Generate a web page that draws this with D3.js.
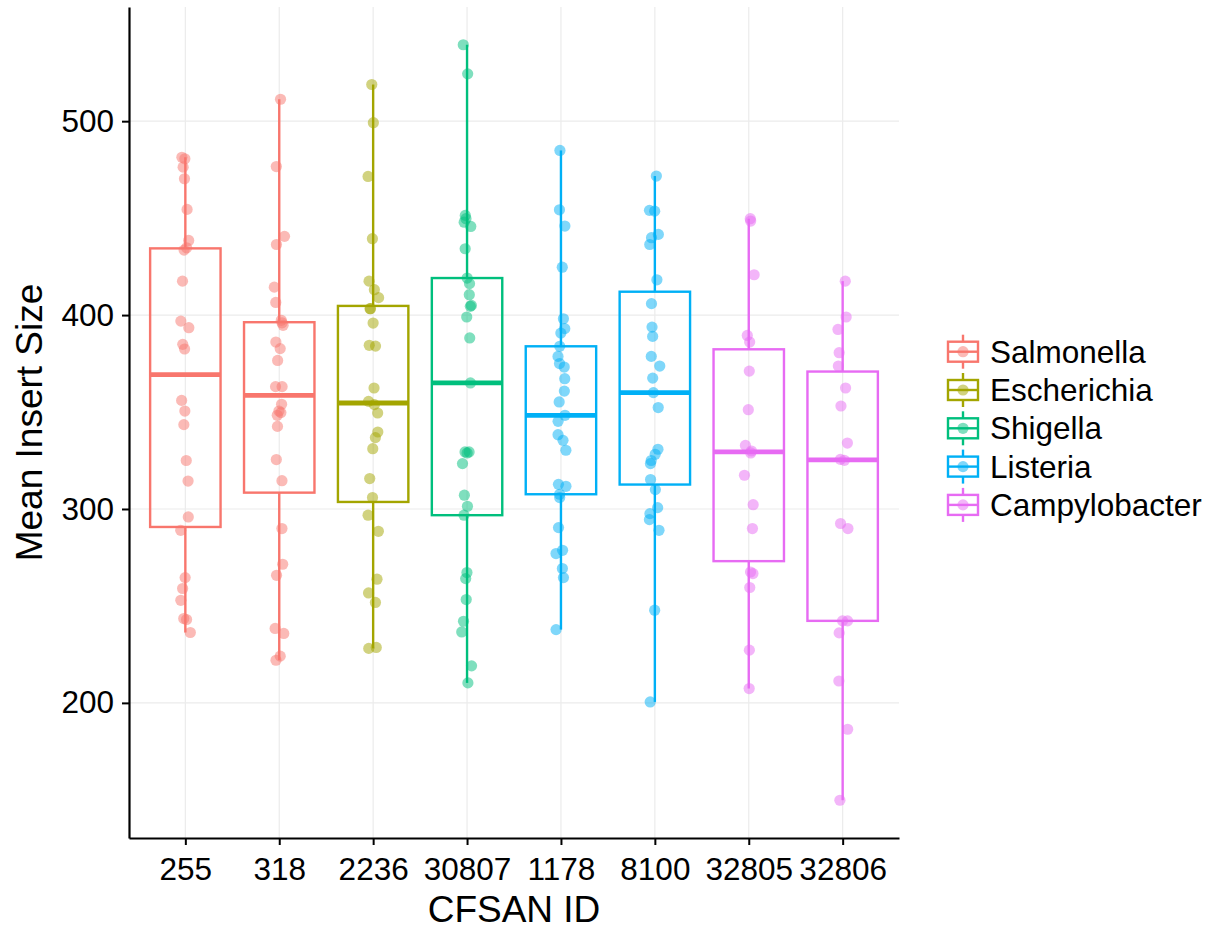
<!DOCTYPE html>
<html>
<head>
<meta charset="utf-8">
<script src="https://cdn.jsdelivr.net/npm/d3@7"></script>
<style>
  body { margin: 0; background: #fff; }
  text { font-family: "Liberation Sans", Arial, Helvetica, sans-serif; }
</style>
</head>
<body>
<svg id="chart" width="1211" height="930"></svg>
<script>
'use strict';

// CFSAN IDs in plotting order, and the genus each one belongs to
const ids = ['255', '318', '2236', '30807', '1178', '8100', '32805', '32806'];
const genusOfId = ['Salmonella', 'Salmonella', 'Escherichia', 'Shigella',
  'Listeria', 'Listeria', 'Campylobacter', 'Campylobacter'];
const genera = ['Salmonella', 'Escherichia', 'Shigella', 'Listeria', 'Campylobacter'];
const yTicks = [200, 300, 400, 500];

// mean insert size per sample
const size255 = [481.4, 480.6, 476.3, 470.3, 454.5, 438.5, 434.7, 433.5, 417.5, 396.9,
  393.5, 384.9, 382.5, 356, 350.5, 343.5, 325, 314.4, 295.9, 289, 264.6, 259, 252.9,
  243.5, 243, 236.3];
const size318 = [511.3, 476.6, 440.6, 436.4, 414.4, 406.5, 397.3, 396, 394.7, 386.1,
  382.7, 376.6, 363.1, 363.1, 354, 350.5, 349.7, 348.3, 342.6, 325.5, 314.6, 289.9,
  271.5, 265.8, 238.4, 235.8, 224.1, 222];
const size2236 = [518.9, 499.2, 471.5, 439.4, 417.5, 413.1, 409, 403.3, 403.3, 395.9,
  384.4, 384, 362.4, 355.5, 353.8, 349.5, 339.7, 336.8, 331.1, 315.7, 305.9, 296.8,
  288.5, 263.8, 256.7, 251.8, 228.6, 228.1];
const size30807 = [539.4, 524.4, 451.4, 449.7, 447.9, 445.7, 434.2, 419.1, 416.2, 410.5,
  405, 404.5, 399, 388.2, 365, 329.4, 329.4, 328.9, 323.4, 307.1, 301.4, 296.8, 267.2,
  264.1, 253.3, 242.1, 236.6, 219.1, 210.3];
const size1178 = [484.9, 454.3, 445.9, 424.7, 398.1, 393, 390.7, 383.9, 378.7, 375,
  373.2, 367.2, 360.8, 355.2, 348.3, 345.2, 338.3, 335.4, 330.3, 312.7, 311.7, 307.6,
  305.9, 290.4, 278.7, 277, 269.3, 264.6, 237.8];
const size8100 = [471.7, 454, 453.6, 441.6, 439.9, 436.4, 418.2, 405.9, 393.8, 389,
  378.7, 373.7, 367.5, 360, 352.3, 330.8, 328.2, 325, 323.4, 315.2, 310, 300.7, 297.6,
  294.5, 289, 247.8, 200.5];
const size32805 = [449.7, 448.5, 420.8, 389.5, 386.1, 371.1, 351.2, 332.8, 329.9, 328.9,
  317.4, 302.2, 289.9, 267.5, 266.7, 259.5, 227.2, 207.4];
const size32806 = [417.5, 399, 392.6, 380.6, 373.7, 362.4, 353.1, 334, 325.6, 325.1,
  292.5, 289.9, 242.3, 242.3, 236.1, 211.3, 186.4, 149.8];

const samples = [size255, size318, size2236, size30807, size1178, size8100, size32805, size32806];

function boxStats(values) {
  const v = values.slice().sort(d3.ascending);
  const q1 = d3.quantile(v, 0.25);
  const median = d3.quantile(v, 0.5);
  const q3 = d3.quantile(v, 0.75);
  const iqr = q3 - q1;
  const lo = d3.min(v.filter(d => d >= q1 - 1.5 * iqr));
  const hi = d3.max(v.filter(d => d <= q3 + 1.5 * iqr));
  return { q1, median, q3, lo, hi };
}

function main() {
  const svg = d3.select('#chart');
  const margin = { top: 7, right: 312, bottom: 92, left: 129 };
  const width = Number(svg.attr('width'));
  const height = Number(svg.attr('height'));

  const all = samples.flat();
  const ext = d3.extent(all);
  const pad = (ext[1] - ext[0]) * 0.05;

  const x = d3.scalePoint()
    .domain(ids)
    .range([margin.left, width - margin.right])
    .padding(0.6);

  const y = d3.scaleLinear()
    .domain([ext[0] - pad, ext[1] + pad])
    .range([height - margin.bottom, margin.top]);

  const color = d3.scaleOrdinal()
    .domain(genera)
    .range(['#F8766D', '#A3A500', '#00BF7D', '#00B0F6', '#E76BF3']);

  const step = x.step();
  const boxW = step * 0.75;

  // grid
  const grid = svg.append('g').attr('stroke', '#ebebeb').attr('stroke-width', 1.2);
  grid.selectAll('line.h')
    .data(yTicks)
    .enter().append('line')
    .attr('x1', margin.left).attr('x2', width - margin.right)
    .attr('y1', d => y(d)).attr('y2', d => y(d));
  grid.selectAll('line.v')
    .data(ids)
    .enter().append('line')
    .attr('x1', d => x(d)).attr('x2', d => x(d))
    .attr('y1', margin.top).attr('y2', height - margin.bottom);

  // boxes
  const boxes = samples.map((s, i) => Object.assign({ id: ids[i], genus: genusOfId[i] }, boxStats(s)));

  const box = svg.append('g')
    .selectAll('g')
    .data(boxes)
    .enter().append('g')
    .attr('stroke', d => color(d.genus))
    .attr('fill', 'none');

  box.append('line')
    .attr('stroke-width', 2.4)
    .attr('x1', d => x(d.id)).attr('x2', d => x(d.id))
    .attr('y1', d => y(d.hi)).attr('y2', d => y(d.q3));

  box.append('line')
    .attr('stroke-width', 2.4)
    .attr('x1', d => x(d.id)).attr('x2', d => x(d.id))
    .attr('y1', d => y(d.q1)).attr('y2', d => y(d.lo));

  box.append('rect')
    .attr('stroke-width', 2.4)
    .attr('x', d => x(d.id) - boxW / 2)
    .attr('width', boxW)
    .attr('y', d => y(d.q3))
    .attr('height', d => y(d.q1) - y(d.q3));

  box.append('line')
    .attr('stroke-width', 4.8)
    .attr('x1', d => x(d.id) - boxW / 2).attr('x2', d => x(d.id) + boxW / 2)
    .attr('y1', d => y(d.median)).attr('y2', d => y(d.median));

  // jittered points
  const jitter = d3.randomUniform.source(d3.randomLcg(0.318))(-5.5, 5.5);
  const points = [];
  samples.forEach((s, i) => s.forEach(v => points.push({ id: ids[i], genus: genusOfId[i], v, dx: jitter() })));

  svg.append('g')
    .selectAll('circle')
    .data(points)
    .enter().append('circle')
    .attr('cx', d => x(d.id) + d.dx)
    .attr('cy', d => y(d.v))
    .attr('r', 5.6)
    .attr('fill', d => color(d.genus))
    .attr('fill-opacity', 0.5);

  // axes
  const xAxis = svg.append('g')
    .attr('transform', 'translate(0,' + (height - margin.bottom) + ')')
    .call(d3.axisBottom(x).tickSize(7).tickPadding(13).tickSizeOuter(0));

  const yAxis = svg.append('g')
    .attr('transform', 'translate(' + margin.left + ',0)')
    .call(d3.axisLeft(y).tickValues(yTicks).tickSize(7).tickPadding(8).tickSizeOuter(0));

  for (const axis of [xAxis, yAxis]) {
    axis.select('.domain').attr('stroke', '#000').attr('stroke-width', 2.2);
    axis.selectAll('.tick line').attr('stroke', '#000').attr('stroke-width', 2);
    axis.selectAll('.tick text')
      .attr('fill', '#000')
      .style('font-size', '31.5px')
      .style('font-family', '"Liberation Sans", Arial, Helvetica, sans-serif');
  }

  svg.append('text')
    .attr('x', (margin.left + width - margin.right) / 2)
    .attr('y', 922)
    .attr('text-anchor', 'middle')
    .style('font-size', '37px')
    .text('CFSAN ID');

  svg.append('text')
    .attr('transform', 'translate(42,' + (margin.top + height - margin.bottom) / 2 + ') rotate(-90)')
    .attr('text-anchor', 'middle')
    .style('font-size', '37px')
    .text('Mean Insert Size');

  // legend
  const legend = svg.append('g')
    .selectAll('g')
    .data(genera)
    .enter().append('g')
    .attr('transform', (d, i) => 'translate(948,' + (351.7 + i * 38.3) + ')');

  legend.append('line')
    .attr('stroke', d => color(d)).attr('stroke-width', 2.4)
    .attr('x1', 15).attr('x2', 15).attr('y1', -17).attr('y2', 17);

  legend.append('rect')
    .attr('x', 0).attr('y', -10).attr('width', 30).attr('height', 20)
    .attr('fill', '#fff')
    .attr('stroke', d => color(d)).attr('stroke-width', 2.4);

  legend.append('line')
    .attr('stroke', d => color(d)).attr('stroke-width', 2.4)
    .attr('x1', 0).attr('x2', 30).attr('y1', 0).attr('y2', 0);

  legend.append('circle')
    .attr('cx', 15).attr('cy', 0).attr('r', 5.6)
    .attr('fill', d => color(d)).attr('fill-opacity', 0.5);

  legend.append('text')
    .attr('x', 42)
    .attr('y', 11)
    .style('font-size', '31.5px')
    .text(d => d);
}

if (document.readyState !== 'loading')
  main();
else
  document.addEventListener('DOMContentLoaded', main);
</script>
</body>
</html>
